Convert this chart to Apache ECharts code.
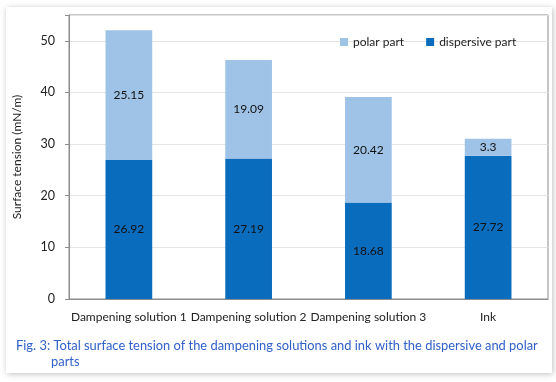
<!DOCTYPE html>
<html><head><meta charset="utf-8">
<script src="https://cdn.jsdelivr.net/npm/echarts@6/dist/echarts.min.js"></script>
<style>html,body{margin:0;padding:0;background:#fff}#c{width:556px;height:382px}</style>
</head><body><div id="c"></div>
<script>
const categories = ['Dampening solution 1','Dampening solution 2','Dampening solution 3','Ink'];
const dispersive = [26.92, 27.19, 18.68, 27.72];
const polar = [25.15, 19.09, 20.42, 3.3];
const yTicks = [0,10,20,30,40,50];
const captionLines = ['Fig. 3: Total surface tension of the dampening solutions and ink with the dispersive and polar','parts'];

const FONT = 'Lato, "Open Sans", sans-serif';
const chart = echarts.init(document.getElementById('c'), null, {renderer:'canvas'});
chart.setOption({
  animation:false,
  backgroundColor:'#ffffff',
  graphic:[
    {type:'rect', z:-10, shape:{x:6,y:7,width:546,height:366},
     style:{fill:'#fff', shadowBlur:6, shadowColor:'rgba(0,0,0,0.25)', shadowOffsetX:1, shadowOffsetY:1}},
    {type:'rect', z:-5, shape:{x:69,y:15,width:479,height:284}, style:{fill:'none', stroke:'#8c8c8c', lineWidth:1}},
    {type:'text', left:16, top:339, style:{text:captionLines[0], font:'12.9px '+FONT, fill:'#3060c8'}},
    {type:'text', left:51, top:355, style:{text:captionLines[1], font:'12.9px '+FONT, fill:'#3060c8'}}
  ],
  grid:{left:69, top:15, width:479, height:284, containLabel:false},
  legend:{
    top:31, left:335, itemWidth:8, itemHeight:8, itemGap:22, icon:'rect',
    textStyle:{fontFamily:FONT, fontSize:12, color:'#222'},
    data:['polar part','dispersive part']
  },
  xAxis:{
    type:'category', data:categories,
    axisLine:{lineStyle:{color:'#8c8c8c'}},
    axisTick:{inside:true, length:4, lineStyle:{color:'#8c8c8c'}},
    axisLabel:{fontFamily:FONT, fontSize:12, color:'#222', margin:12, interval:0}
  },
  yAxis:{
    type:'value', min:0, max:55, interval:10,
    name:'Surface tension (mN/m)', nameLocation:'middle', nameGap:46, nameRotate:90,
    nameTextStyle:{fontFamily:FONT, fontSize:12, color:'#222'},
    axisLine:{show:true, lineStyle:{color:'#8c8c8c'}},
    axisTick:{show:true, length:4, lineStyle:{color:'#8c8c8c'}},
    axisLabel:{fontFamily:FONT, fontSize:12.5, color:'#222', margin:14,
      formatter:v => yTicks.includes(v) ? String(v) : ''},
    splitLine:{lineStyle:{color:'#e4e4e4'}}
  },
  series:[
    {name:'dispersive part', type:'bar', stack:'s', data:dispersive, barWidth:'39%',
     itemStyle:{color:'#0a6cbd'},
     label:{show:true, position:'inside', color:'#111', fontFamily:FONT, fontSize:12}},
    {name:'polar part', type:'bar', stack:'s', data:polar, barWidth:'39%',
     itemStyle:{color:'#9fc3e7'},
     label:{show:true, position:'inside', color:'#111', fontFamily:FONT, fontSize:12}}
  ]
});
</script></body></html>
